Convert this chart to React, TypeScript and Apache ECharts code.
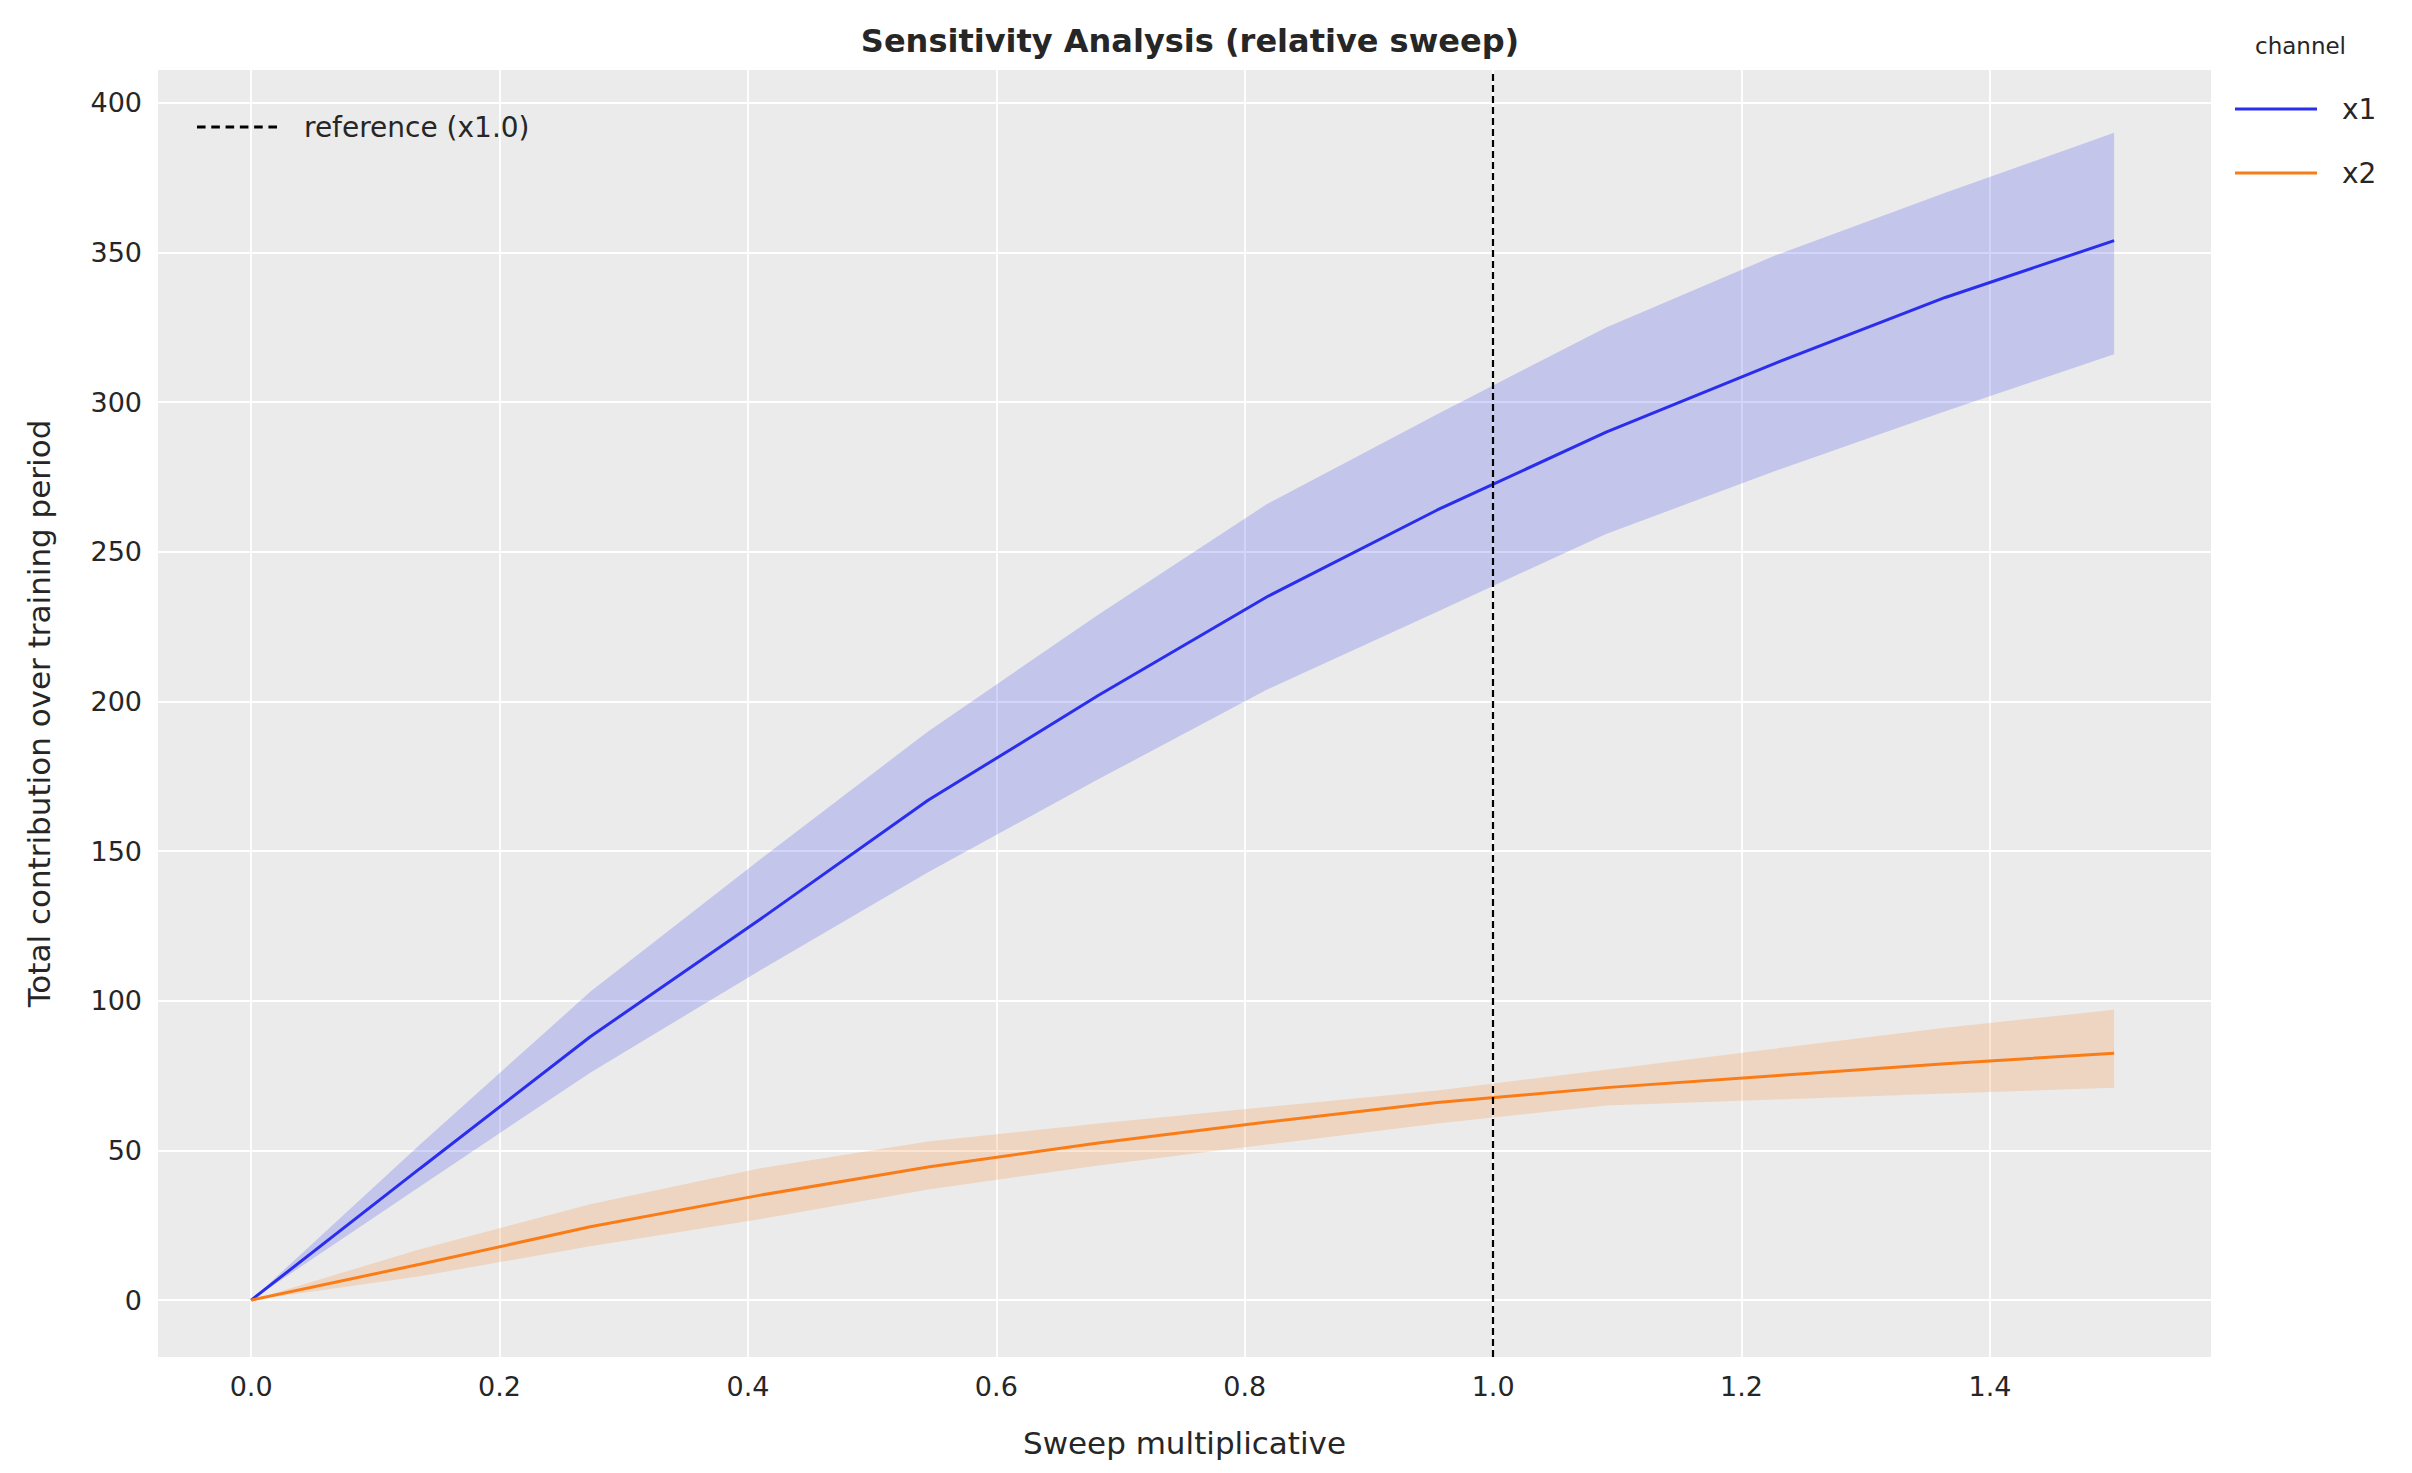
import React, { useEffect, useRef } from "react";
import * as echarts from "echarts";

const sweep = [0, 0.136, 0.273, 0.409, 0.545, 0.682, 0.818, 0.955, 1.091, 1.227, 1.364, 1.5];
const x1Mean = [0, 44, 88, 127, 167, 202, 235, 264, 290, 313, 335, 354];
const x1Upper = [0, 52, 103, 147, 190, 229, 266, 296, 325, 349, 370, 390];
const x1Lower = [0, 38, 76, 110, 143, 174, 204, 230, 256, 277, 297, 316];
const x2Mean = [0, 12, 24.5, 35, 44.5, 52.5, 59.5, 66, 71, 75, 79, 82.5];
const x2Upper = [0, 17, 32, 44, 53, 59, 64.5, 70, 77, 84, 91, 97];
const x2Lower = [0, 8, 18, 27, 37, 45, 52, 59, 65, 67, 69, 71];
const xTicks = [0, 0.2, 0.4, 0.6, 0.8, 1.0, 1.2, 1.4];
const yTicks = [0, 50, 100, 150, 200, 250, 300, 350, 400];

const BLUE = "#2a2eec";
const ORANGE = "#fa7c17";
const FONT = "DejaVu Sans";
const DASH_ICON =
  "path://M0,0h6v2h-6z M10,0h6v2h-6z M20,0h6v2h-6z M30,0h6v2h-6z M40,0h6v2h-6z M50,0h6v2h-6z";

const pairs = (ys: number[]) => sweep.map((x, i) => [x, ys[i]]);

const App = () => {
  const chartRef = useRef<HTMLDivElement>(null);

  useEffect(() => {
    const chart = echarts.init(chartRef.current, null, { renderer: "svg" });
    const band = (name: string, lower: number[], upper: number[], color: string) => ({
      name,
      type: "custom",
      silent: true,
      data: [[0, 0]],
      renderItem: (_params: any, api: any) => {
        const pts = sweep.map((x, i) => api.coord([x, upper[i]]));
        for (let i = sweep.length - 1; i >= 0; i--) pts.push(api.coord([sweep[i], lower[i]]));
        return {
          type: "polygon",
          shape: { points: pts },
          style: { fill: color, opacity: 0.2 },
        };
      },
    });

    const legendText = { fontFamily: FONT, fontSize: 28, color: "#262626" };

    chart.setOption({
      animation: false,
      textStyle: { fontFamily: FONT },
      title: {
        text: "Sensitivity Analysis (relative sweep)",
        left: 1185,
        textAlign: "center",
        top: 20,
        textStyle: { fontFamily: FONT, fontWeight: "bold", fontSize: 32, color: "#262626" },
      },
      graphic: [
        {
          type: "text",
          left: 2255,
          top: 34,
          style: { text: "channel", fontFamily: FONT, fontSize: 23, fill: "#262626" },
        },
      ],
      legend: [
        {
          data: [{ name: "reference (x1.0)", icon: DASH_ICON }],
          left: 192,
          top: 108,
          itemWidth: 80,
          itemHeight: 3,
          itemGap: 10,
          textStyle: { ...legendText, padding: [0, 0, 0, 22] },
        },
        {
          data: [
            { name: "x1", icon: "rect" },
            { name: "x2", icon: "rect" },
          ],
          orient: "vertical",
          left: 2230,
          top: 90,
          itemWidth: 82,
          itemHeight: 3,
          itemGap: 36,
          textStyle: { ...legendText, padding: [0, 0, 0, 20] },
        },
      ],
      grid: {
        left: 158,
        right: 201,
        top: 70,
        bottom: 116,
        show: true,
        backgroundColor: "#ebebeb",
        borderWidth: 0,
      },
      xAxis: {
        type: "value",
        min: -0.075,
        max: 1.578,
        name: "Sweep multiplicative",
        nameLocation: "middle",
        nameGap: 70,
        nameTextStyle: { fontFamily: FONT, fontSize: 31, color: "#262626" },
        axisLine: { show: false },
        axisTick: { show: false, customValues: xTicks },
        axisLabel: {
          customValues: xTicks,
          formatter: (v: number) => v.toFixed(1),
          fontFamily: FONT,
          fontSize: 27,
          color: "#262626",
          margin: 16,
        },
        splitLine: { show: true, lineStyle: { color: "#ffffff", width: 1.8 } },
      },
      yAxis: {
        type: "value",
        min: -19,
        max: 411,
        name: "Total contribution over training period",
        nameLocation: "middle",
        nameGap: 104,
        nameTextStyle: { fontFamily: FONT, fontSize: 31, color: "#262626" },
        axisLine: { show: false },
        axisTick: { show: false, customValues: yTicks },
        axisLabel: {
          customValues: yTicks,
          fontFamily: FONT,
          fontSize: 27,
          color: "#262626",
          margin: 16,
        },
        splitLine: { show: true, lineStyle: { color: "#ffffff", width: 1.8 } },
      },
      series: [
        band("b1", x1Lower, x1Upper, BLUE),
        band("b2", x2Lower, x2Upper, ORANGE),
        {
          name: "x1",
          type: "line",
          data: pairs(x1Mean),
          symbol: "none",
          color: BLUE,
          lineStyle: { color: BLUE, width: 3 },
        },
        {
          name: "x2",
          type: "line",
          data: pairs(x2Mean),
          symbol: "none",
          color: ORANGE,
          lineStyle: { color: ORANGE, width: 3 },
        },
        {
          name: "reference (x1.0)",
          type: "line",
          data: [],
          symbol: "none",
          color: "#000000",
          lineStyle: { color: "#000000", width: 2, type: [6, 4] },
          markLine: {
            silent: true,
            symbol: "none",
            label: { show: false },
            lineStyle: { color: "#000000", width: 2.2, type: [7, 4] },
            data: [{ xAxis: 1 }],
          },
        },
      ],
    });

    return () => chart.dispose();
  }, []);

  return (
    <div
      ref={chartRef}
      style={{ position: "fixed", left: 0, top: 0, width: "2412px", height: "1473px", background: "#fff" }}
    />
  );
};

export default App;
